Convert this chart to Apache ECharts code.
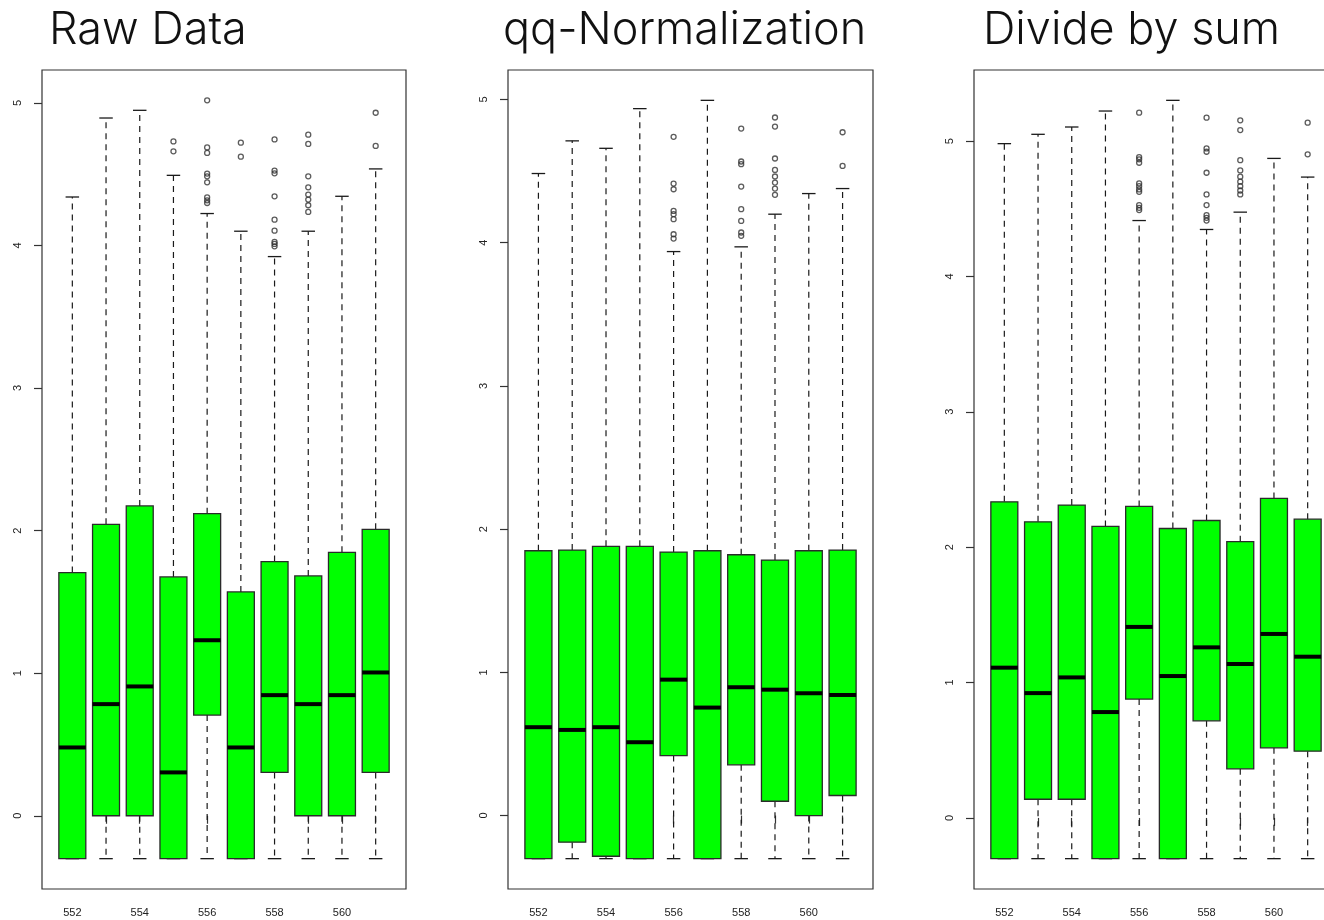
<!DOCTYPE html>
<html>
<head>
<meta charset="utf-8">
<script src="https://cdn.jsdelivr.net/npm/echarts@6/dist/echarts.min.js"></script>
<style>
  html, body { margin: 0; padding: 0; background: #fff; }
  #chart { width: 1324px; height: 920px; }
</style>
</head>
<body>
<div id="chart"></div>
<script>
// ---- Data ----
const categories = ['552', '553', '554', '555', '556', '557', '558', '559', '560', '561'];
const xLabelValues = ['552', '554', '556', '558', '560'];
const yTickLabels = [0, 1, 2, 3, 4, 5];
const panelTitles = ['Raw Data', 'qq-Normalization', 'Divide by sum'];

// Each box: [lower whisker, Q1, median, Q3, upper whisker]
const rawBoxes = [
  [-0.301, -0.301, 0.479, 1.706, 4.340],
  [-0.301, 0.000, 0.783, 2.044, 4.894],
  [-0.301, 0.000, 0.907, 2.173, 4.948],
  [-0.301, -0.301, 0.304, 1.675, 4.492],
  [-0.301, 0.706, 1.231, 2.119, 4.224],
  [-0.301, -0.301, 0.479, 1.570, 4.100],
  [-0.301, 0.304, 0.846, 1.783, 3.922],
  [-0.301, 0.000, 0.783, 1.682, 4.100],
  [-0.301, 0.000, 0.846, 1.848, 4.345],
  [-0.301, 0.304, 1.005, 2.009, 4.537]
];
// Outliers: [category index, value]
const rawOutliers = [
  [3, 4.73], [3, 4.66],
  [4, 5.018], [4, 4.688], [4, 4.649], [4, 4.504], [4, 4.485], [4, 4.443], [4, 4.338], [4, 4.317], [4, 4.298],
  [5, 4.721], [5, 4.623],
  [6, 4.744], [6, 4.525], [6, 4.506], [6, 4.345], [6, 4.181], [6, 4.104], [6, 4.025], [6, 4.011], [6, 3.994],
  [7, 4.777], [7, 4.712], [7, 4.485], [7, 4.408], [7, 4.357], [7, 4.322], [7, 4.282], [7, 4.235],
  [9, 4.931], [9, 4.698]
];

const qqBoxes = [
  [-0.301, -0.301, 0.617, 1.849, 4.483],
  [-0.301, -0.186, 0.598, 1.854, 4.711],
  [-0.301, -0.284, 0.617, 1.880, 4.659],
  [-0.301, -0.301, 0.512, 1.880, 4.936],
  [-0.301, 0.419, 0.949, 1.840, 3.938],
  [-0.301, -0.301, 0.754, 1.849, 4.994],
  [-0.301, 0.354, 0.896, 1.821, 3.971],
  [-0.301, 0.100, 0.879, 1.784, 4.199],
  [-0.301, 0.000, 0.854, 1.849, 4.343],
  [-0.301, 0.140, 0.842, 1.854, 4.378]
];
const qqOutliers = [
  [4, 4.739], [4, 4.413], [4, 4.373], [4, 4.222], [4, 4.199], [4, 4.164], [4, 4.059], [4, 4.029],
  [6, 4.797], [6, 4.567], [6, 4.548], [6, 4.392], [6, 4.234], [6, 4.152], [6, 4.071], [6, 4.048],
  [7, 4.874], [7, 4.811], [7, 4.588], [7, 4.508], [7, 4.462], [7, 4.420], [7, 4.378], [7, 4.334],
  [9, 4.771], [9, 4.536]
];

const sumBoxes = [
  [-0.301, -0.301, 1.110, 2.335, 4.981],
  [-0.301, 0.138, 0.922, 2.187, 5.050],
  [-0.301, 0.138, 1.038, 2.311, 5.104],
  [-0.301, -0.301, 0.782, 2.153, 5.222],
  [-0.301, 0.878, 1.411, 2.301, 4.413],
  [-0.301, -0.301, 1.048, 2.138, 5.301],
  [-0.301, 0.717, 1.260, 2.197, 4.347],
  [-0.301, 0.363, 1.137, 2.041, 4.475],
  [-0.301, 0.518, 1.359, 2.360, 4.872],
  [-0.301, 0.493, 1.191, 2.207, 4.734]
];
const sumOutliers = [
  [4, 5.210], [4, 4.882], [4, 4.865], [4, 4.840], [4, 4.687], [4, 4.667], [4, 4.643], [4, 4.625], [4, 4.527], [4, 4.507], [4, 4.490],
  [6, 5.173], [6, 4.946], [6, 4.921], [6, 4.766], [6, 4.606], [6, 4.527], [6, 4.453], [6, 4.433], [6, 4.413],
  [7, 5.153], [7, 5.081], [7, 4.859], [7, 4.783], [7, 4.737], [7, 4.700], [7, 4.667], [7, 4.635], [7, 4.606],
  [9, 5.136], [9, 4.902]
];

// ---- Build chart ----
const panels = [
  { boxes: rawBoxes, outliers: rawOutliers, grid: { left: 42, width: 364 }, titleLeft: 44 },
  { boxes: qqBoxes, outliers: qqOutliers, grid: { left: 508, width: 365 }, titleLeft: 498 },
  { boxes: sumBoxes, outliers: sumOutliers, grid: { left: 974, width: 364 }, titleLeft: 978 }
];

const n = categories.length;
const xMin = 0.5 - 0.04 * n;
const xMax = n + 0.5 + 0.04 * n;
const BOX_W = 0.8, CAP_W = 0.4;
const GREEN = '#00ff00';
const INK = '#1a1a1a';

function yRange(boxes, outliers) {
  let lo = Infinity, hi = -Infinity;
  boxes.forEach(b => { lo = Math.min(lo, b[0]); hi = Math.max(hi, b[4]); });
  outliers.forEach(o => { lo = Math.min(lo, o[1]); hi = Math.max(hi, o[1]); });
  const r = hi - lo;
  return [lo - 0.04 * r, hi + 0.04 * r];
}

function renderBox(params, api) {
  const x = api.value(0);
  const low = api.coord([x, api.value(1)]);
  const q1 = api.coord([x, api.value(2)]);
  const med = api.coord([x, api.value(3)]);
  const q3 = api.coord([x, api.value(4)]);
  const high = api.coord([x, api.value(5)]);
  const half = api.size([BOX_W, 0])[0] / 2;
  const capHalf = api.size([CAP_W, 0])[0] / 2;
  const cx = q1[0];
  const dashStyle = { stroke: INK, lineWidth: 1.2, lineDash: [6, 5] };
  const solid = { stroke: INK, lineWidth: 1.3 };
  return {
    type: 'group',
    children: [
      { type: 'line', shape: { x1: cx, y1: q3[1], x2: cx, y2: high[1] }, style: dashStyle },
      { type: 'line', shape: { x1: cx, y1: q1[1], x2: cx, y2: low[1] }, style: dashStyle },
      { type: 'line', shape: { x1: cx - capHalf, y1: high[1], x2: cx + capHalf, y2: high[1] }, style: solid },
      { type: 'line', shape: { x1: cx - capHalf, y1: low[1], x2: cx + capHalf, y2: low[1] }, style: solid },
      { type: 'rect', shape: { x: cx - half, y: q3[1], width: 2 * half, height: q1[1] - q3[1] },
        style: { fill: GREEN, stroke: '#2a2a2a', lineWidth: 1.3 } },
      { type: 'line', shape: { x1: cx - half, y1: med[1], x2: cx + half, y2: med[1] },
        style: { stroke: '#000', lineWidth: 4 } }
    ]
  };
}

const option = {
  animation: false,
  backgroundColor: '#fff',
  title: [],
  grid: [],
  xAxis: [],
  yAxis: [],
  series: []
};

panels.forEach((p, i) => {
  const [yMin, yMax] = yRange(p.boxes, p.outliers);
  option.title.push({
    text: panelTitles[i],
    left: p.titleLeft,
    top: 3,
    textStyle: { fontFamily: 'Inter', fontWeight: 300, fontSize: 45, color: '#111' }
  });
  option.grid.push({
    left: p.grid.left, width: p.grid.width, top: 70, bottom: 31,
    outerBoundsMode: 'none', containLabel: false,
    show: true, borderColor: '#333', borderWidth: 1.2, backgroundColor: 'transparent'
  });
  option.xAxis.push({
    type: 'value', gridIndex: i, min: xMin, max: xMax,
    splitLine: { show: false },
    axisLine: { show: false },
    axisTick: { show: true, length: 8, lineStyle: { color: '#333', width: 1.2 },
      customValues: categories.map((c, k) => k + 1) },
    axisLabel: {
      show: true, margin: 18, fontSize: 11, fontFamily: 'Liberation Sans', color: '#222',
      customValues: xLabelValues.map(v => categories.indexOf(v) + 1),
      formatter: v => categories[Math.round(v) - 1]
    }
  });
  option.yAxis.push({
    type: 'value', gridIndex: i, min: yMin, max: yMax,
    splitLine: { show: false },
    axisLine: { show: false },
    axisTick: { show: true, length: 8, lineStyle: { color: '#333', width: 1.2 }, customValues: yTickLabels },
    axisLabel: {
      show: true, rotate: 90, margin: 19, fontSize: 11, fontFamily: 'Liberation Sans', color: '#222',
      customValues: yTickLabels, formatter: v => String(Math.round(v))
    }
  });
  option.series.push({
    type: 'custom', xAxisIndex: i, yAxisIndex: i,
    renderItem: renderBox,
    encode: { x: 0, y: [1, 2, 3, 4, 5] },
    data: p.boxes.map((b, k) => [k + 1, b[0], b[1], b[2], b[3], b[4]]),
    z: 2
  });
  option.series.push({
    type: 'scatter', xAxisIndex: i, yAxisIndex: i,
    symbol: 'circle', symbolSize: 5,
    itemStyle: { color: 'rgba(0,0,0,0)', borderColor: '#333', borderWidth: 1.3 },
    data: p.outliers.map(o => [o[0] + 1, o[1]]),
    z: 3
  });
});

const chart = echarts.init(document.getElementById('chart'), null, { renderer: 'canvas' });
chart.setOption(option);
</script>
</body>
</html>
